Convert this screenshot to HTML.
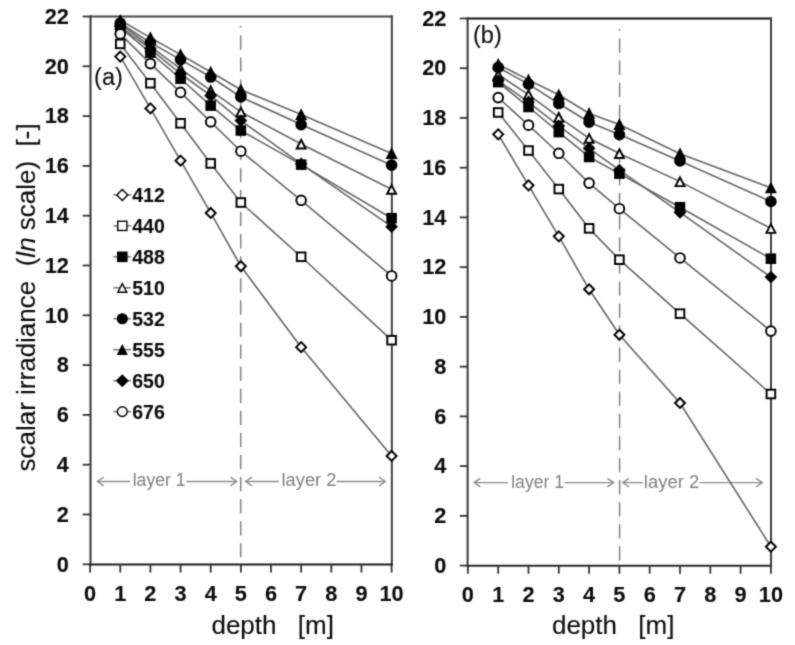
<!DOCTYPE html>
<html><head><meta charset="utf-8"><style>
html,body{margin:0;padding:0;background:#fff;}
svg{display:block;font-family:"Liberation Sans",sans-serif;}
.w{will-change:transform;}
</style></head><body>
<div class="w"><svg width="795" height="645" viewBox="0 0 795 645">
<defs><filter id="bl" color-interpolation-filters="sRGB" x="0" y="0" width="100%" height="100%" filterUnits="userSpaceOnUse"><feConvolveMatrix order="3" kernelMatrix="1 4 1 4 16 4 1 4 1" divisor="36" edgeMode="duplicate"/></filter></defs>
<g filter="url(#bl)">
<rect width="795" height="645" fill="#fff"/>
<line x1="240.70" y1="26.00" x2="240.70" y2="564.50" stroke="#808080" stroke-width="1.5" stroke-dasharray="14.3 7.78" stroke-dashoffset="-9.40"/>
<line x1="97.50" y1="481.5" x2="130.00" y2="481.5" stroke="#8c8c8c" stroke-width="1.4"/>
<line x1="186.40" y1="481.5" x2="236.50" y2="481.5" stroke="#8c8c8c" stroke-width="1.4"/>
<line x1="245.80" y1="481.5" x2="279.00" y2="481.5" stroke="#8c8c8c" stroke-width="1.4"/>
<line x1="336.60" y1="481.5" x2="385.00" y2="481.5" stroke="#8c8c8c" stroke-width="1.4"/>
<path d="M103.70 477.20L97.40 481.5L103.70 485.80" fill="none" stroke="#8c8c8c" stroke-width="1.4"/>
<path d="M230.40 477.20L236.70 481.5L230.40 485.80" fill="none" stroke="#8c8c8c" stroke-width="1.4"/>
<path d="M252.00 477.20L245.70 481.5L252.00 485.80" fill="none" stroke="#8c8c8c" stroke-width="1.4"/>
<path d="M379.00 477.20L385.30 481.5L379.00 485.80" fill="none" stroke="#8c8c8c" stroke-width="1.4"/>
<text x="132.69" y="486.20" font-size="17.5" fill="#808080" textLength="53.01" lengthAdjust="spacingAndGlyphs">layer 1</text>
<text x="281.55" y="486.20" font-size="17.5" fill="#808080" textLength="54.87" lengthAdjust="spacingAndGlyphs">layer 2</text>
<polyline points="120.25,56.59 150.40,108.38 180.55,160.67 210.70,212.96 240.85,266.25 301.15,347.17 391.60,455.98" fill="none" stroke="#666" stroke-width="1.6"/>
<polyline points="120.25,43.89 150.40,83.23 180.55,123.32 210.70,163.41 240.85,202.50 301.15,256.78 391.60,340.20" fill="none" stroke="#666" stroke-width="1.6"/>
<polyline points="120.25,27.70 150.40,52.60 180.55,78.75 210.70,105.64 240.85,130.54 301.15,164.65 391.60,218.19" fill="none" stroke="#666" stroke-width="1.6"/>
<polyline points="120.25,23.97 150.40,46.38 180.55,68.79 210.70,90.70 240.85,111.87 301.15,143.99 391.60,189.31" fill="none" stroke="#666" stroke-width="1.6"/>
<polyline points="120.25,23.22 150.40,42.64 180.55,59.58 210.70,77.01 240.85,96.93 301.15,124.57 391.60,165.15" fill="none" stroke="#666" stroke-width="1.6"/>
<polyline points="120.25,20.23 150.40,37.66 180.55,54.60 210.70,72.03 240.85,89.71 301.15,114.61 391.60,153.45" fill="none" stroke="#666" stroke-width="1.6"/>
<polyline points="120.25,26.46 150.40,48.87 180.55,73.77 210.70,95.68 240.85,120.58 301.15,163.91 391.60,226.66" fill="none" stroke="#666" stroke-width="1.6"/>
<polyline points="120.25,33.93 150.40,63.56 180.55,92.44 210.70,121.83 240.85,151.21 301.15,200.26 391.60,275.96" fill="none" stroke="#666" stroke-width="1.6"/>
<line x1="89.50" y1="16.50" x2="392.85" y2="16.50" stroke="#454545" stroke-width="2"/>
<line x1="90.50" y1="15.50" x2="90.50" y2="565.50" stroke="#333" stroke-width="2"/>
<line x1="391.85" y1="15.50" x2="391.85" y2="565.50" stroke="#414141" stroke-width="2"/>
<line x1="89.50" y1="564.50" x2="392.85" y2="564.50" stroke="#1c1c1c" stroke-width="2"/>
<line x1="82.70" y1="564.30" x2="90.50" y2="564.30" stroke="#333" stroke-width="1.8"/>
<text x="68.90" y="571.50" font-size="22" font-weight="bold" text-anchor="end" fill="#0d0d0d" stroke="#0d0d0d" stroke-width="0.12" textLength="12.10" lengthAdjust="spacingAndGlyphs">0</text>
<line x1="82.70" y1="514.50" x2="90.50" y2="514.50" stroke="#333" stroke-width="1.8"/>
<text x="68.90" y="521.70" font-size="22" font-weight="bold" text-anchor="end" fill="#0d0d0d" stroke="#0d0d0d" stroke-width="0.12" textLength="12.10" lengthAdjust="spacingAndGlyphs">2</text>
<line x1="82.70" y1="464.70" x2="90.50" y2="464.70" stroke="#333" stroke-width="1.8"/>
<text x="68.90" y="471.90" font-size="22" font-weight="bold" text-anchor="end" fill="#0d0d0d" stroke="#0d0d0d" stroke-width="0.12" textLength="12.10" lengthAdjust="spacingAndGlyphs">4</text>
<line x1="82.70" y1="414.90" x2="90.50" y2="414.90" stroke="#333" stroke-width="1.8"/>
<text x="68.90" y="422.10" font-size="22" font-weight="bold" text-anchor="end" fill="#0d0d0d" stroke="#0d0d0d" stroke-width="0.12" textLength="12.10" lengthAdjust="spacingAndGlyphs">6</text>
<line x1="82.70" y1="365.10" x2="90.50" y2="365.10" stroke="#333" stroke-width="1.8"/>
<text x="68.90" y="372.30" font-size="22" font-weight="bold" text-anchor="end" fill="#0d0d0d" stroke="#0d0d0d" stroke-width="0.12" textLength="12.10" lengthAdjust="spacingAndGlyphs">8</text>
<line x1="82.70" y1="315.30" x2="90.50" y2="315.30" stroke="#333" stroke-width="1.8"/>
<text x="68.90" y="322.50" font-size="22" font-weight="bold" text-anchor="end" fill="#0d0d0d" stroke="#0d0d0d" stroke-width="0.12" textLength="24.20" lengthAdjust="spacingAndGlyphs">10</text>
<line x1="82.70" y1="265.50" x2="90.50" y2="265.50" stroke="#333" stroke-width="1.8"/>
<text x="68.90" y="272.70" font-size="22" font-weight="bold" text-anchor="end" fill="#0d0d0d" stroke="#0d0d0d" stroke-width="0.12" textLength="24.20" lengthAdjust="spacingAndGlyphs">12</text>
<line x1="82.70" y1="215.70" x2="90.50" y2="215.70" stroke="#333" stroke-width="1.8"/>
<text x="68.90" y="222.90" font-size="22" font-weight="bold" text-anchor="end" fill="#0d0d0d" stroke="#0d0d0d" stroke-width="0.12" textLength="24.20" lengthAdjust="spacingAndGlyphs">14</text>
<line x1="82.70" y1="165.90" x2="90.50" y2="165.90" stroke="#333" stroke-width="1.8"/>
<text x="68.90" y="173.10" font-size="22" font-weight="bold" text-anchor="end" fill="#0d0d0d" stroke="#0d0d0d" stroke-width="0.12" textLength="24.20" lengthAdjust="spacingAndGlyphs">16</text>
<line x1="82.70" y1="116.10" x2="90.50" y2="116.10" stroke="#333" stroke-width="1.8"/>
<text x="68.90" y="123.30" font-size="22" font-weight="bold" text-anchor="end" fill="#0d0d0d" stroke="#0d0d0d" stroke-width="0.12" textLength="24.20" lengthAdjust="spacingAndGlyphs">18</text>
<line x1="82.70" y1="66.30" x2="90.50" y2="66.30" stroke="#333" stroke-width="1.8"/>
<text x="68.90" y="73.50" font-size="22" font-weight="bold" text-anchor="end" fill="#0d0d0d" stroke="#0d0d0d" stroke-width="0.12" textLength="24.20" lengthAdjust="spacingAndGlyphs">20</text>
<line x1="82.70" y1="16.50" x2="90.50" y2="16.50" stroke="#333" stroke-width="1.8"/>
<text x="68.90" y="23.70" font-size="22" font-weight="bold" text-anchor="end" fill="#0d0d0d" stroke="#0d0d0d" stroke-width="0.12" textLength="24.20" lengthAdjust="spacingAndGlyphs">22</text>
<line x1="90.10" y1="564.50" x2="90.10" y2="572.50" stroke="#333" stroke-width="1.8"/>
<text x="90.10" y="600.90" font-size="22" font-weight="bold" text-anchor="middle" fill="#0d0d0d" stroke="#0d0d0d" stroke-width="0.12" textLength="12.10" lengthAdjust="spacingAndGlyphs">0</text>
<line x1="120.25" y1="564.50" x2="120.25" y2="572.50" stroke="#333" stroke-width="1.8"/>
<text x="120.25" y="600.90" font-size="22" font-weight="bold" text-anchor="middle" fill="#0d0d0d" stroke="#0d0d0d" stroke-width="0.12" textLength="12.10" lengthAdjust="spacingAndGlyphs">1</text>
<line x1="150.40" y1="564.50" x2="150.40" y2="572.50" stroke="#333" stroke-width="1.8"/>
<text x="150.40" y="600.90" font-size="22" font-weight="bold" text-anchor="middle" fill="#0d0d0d" stroke="#0d0d0d" stroke-width="0.12" textLength="12.10" lengthAdjust="spacingAndGlyphs">2</text>
<line x1="180.55" y1="564.50" x2="180.55" y2="572.50" stroke="#333" stroke-width="1.8"/>
<text x="180.55" y="600.90" font-size="22" font-weight="bold" text-anchor="middle" fill="#0d0d0d" stroke="#0d0d0d" stroke-width="0.12" textLength="12.10" lengthAdjust="spacingAndGlyphs">3</text>
<line x1="210.70" y1="564.50" x2="210.70" y2="572.50" stroke="#333" stroke-width="1.8"/>
<text x="210.70" y="600.90" font-size="22" font-weight="bold" text-anchor="middle" fill="#0d0d0d" stroke="#0d0d0d" stroke-width="0.12" textLength="12.10" lengthAdjust="spacingAndGlyphs">4</text>
<line x1="240.85" y1="564.50" x2="240.85" y2="572.50" stroke="#333" stroke-width="1.8"/>
<text x="240.85" y="600.90" font-size="22" font-weight="bold" text-anchor="middle" fill="#0d0d0d" stroke="#0d0d0d" stroke-width="0.12" textLength="12.10" lengthAdjust="spacingAndGlyphs">5</text>
<line x1="271.00" y1="564.50" x2="271.00" y2="572.50" stroke="#333" stroke-width="1.8"/>
<text x="271.00" y="600.90" font-size="22" font-weight="bold" text-anchor="middle" fill="#0d0d0d" stroke="#0d0d0d" stroke-width="0.12" textLength="12.10" lengthAdjust="spacingAndGlyphs">6</text>
<line x1="301.15" y1="564.50" x2="301.15" y2="572.50" stroke="#333" stroke-width="1.8"/>
<text x="301.15" y="600.90" font-size="22" font-weight="bold" text-anchor="middle" fill="#0d0d0d" stroke="#0d0d0d" stroke-width="0.12" textLength="12.10" lengthAdjust="spacingAndGlyphs">7</text>
<line x1="331.30" y1="564.50" x2="331.30" y2="572.50" stroke="#333" stroke-width="1.8"/>
<text x="331.30" y="600.90" font-size="22" font-weight="bold" text-anchor="middle" fill="#0d0d0d" stroke="#0d0d0d" stroke-width="0.12" textLength="12.10" lengthAdjust="spacingAndGlyphs">8</text>
<line x1="361.45" y1="564.50" x2="361.45" y2="572.50" stroke="#333" stroke-width="1.8"/>
<text x="361.45" y="600.90" font-size="22" font-weight="bold" text-anchor="middle" fill="#0d0d0d" stroke="#0d0d0d" stroke-width="0.12" textLength="12.10" lengthAdjust="spacingAndGlyphs">9</text>
<line x1="391.60" y1="564.50" x2="391.60" y2="572.50" stroke="#333" stroke-width="1.8"/>
<text x="391.60" y="600.90" font-size="22" font-weight="bold" text-anchor="middle" fill="#0d0d0d" stroke="#0d0d0d" stroke-width="0.12" textLength="24.20" lengthAdjust="spacingAndGlyphs">10</text>
<path d="M120.25 51.59L125.25 56.59L120.25 61.59L115.25 56.59Z" fill="white" stroke="#000" stroke-width="1.95" stroke-linejoin="miter"/>
<path d="M150.40 103.38L155.40 108.38L150.40 113.38L145.40 108.38Z" fill="white" stroke="#000" stroke-width="1.95" stroke-linejoin="miter"/>
<path d="M180.55 155.67L185.55 160.67L180.55 165.67L175.55 160.67Z" fill="white" stroke="#000" stroke-width="1.95" stroke-linejoin="miter"/>
<path d="M210.70 207.96L215.70 212.96L210.70 217.96L205.70 212.96Z" fill="white" stroke="#000" stroke-width="1.95" stroke-linejoin="miter"/>
<path d="M240.85 261.25L245.85 266.25L240.85 271.25L235.85 266.25Z" fill="white" stroke="#000" stroke-width="1.95" stroke-linejoin="miter"/>
<path d="M301.15 342.17L306.15 347.17L301.15 352.17L296.15 347.17Z" fill="white" stroke="#000" stroke-width="1.95" stroke-linejoin="miter"/>
<path d="M391.60 450.98L396.60 455.98L391.60 460.98L386.60 455.98Z" fill="white" stroke="#000" stroke-width="1.95" stroke-linejoin="miter"/>
<rect x="115.95" y="39.59" width="8.60" height="8.60" fill="white" stroke="#000" stroke-width="1.95"/>
<rect x="146.10" y="78.93" width="8.60" height="8.60" fill="white" stroke="#000" stroke-width="1.95"/>
<rect x="176.25" y="119.02" width="8.60" height="8.60" fill="white" stroke="#000" stroke-width="1.95"/>
<rect x="206.40" y="159.11" width="8.60" height="8.60" fill="white" stroke="#000" stroke-width="1.95"/>
<rect x="236.55" y="198.20" width="8.60" height="8.60" fill="white" stroke="#000" stroke-width="1.95"/>
<rect x="296.85" y="252.48" width="8.60" height="8.60" fill="white" stroke="#000" stroke-width="1.95"/>
<rect x="387.30" y="335.90" width="8.60" height="8.60" fill="white" stroke="#000" stroke-width="1.95"/>
<rect x="115.95" y="23.40" width="8.60" height="8.60" fill="#000" stroke="#000" stroke-width="1.95"/>
<rect x="146.10" y="48.30" width="8.60" height="8.60" fill="#000" stroke="#000" stroke-width="1.95"/>
<rect x="176.25" y="74.45" width="8.60" height="8.60" fill="#000" stroke="#000" stroke-width="1.95"/>
<rect x="206.40" y="101.34" width="8.60" height="8.60" fill="#000" stroke="#000" stroke-width="1.95"/>
<rect x="236.55" y="126.24" width="8.60" height="8.60" fill="#000" stroke="#000" stroke-width="1.95"/>
<rect x="296.85" y="160.35" width="8.60" height="8.60" fill="#000" stroke="#000" stroke-width="1.95"/>
<rect x="387.30" y="213.89" width="8.60" height="8.60" fill="#000" stroke="#000" stroke-width="1.95"/>
<path d="M120.25 19.77L124.70 28.47L115.80 28.47Z" fill="white" stroke="#000" stroke-width="1.95" stroke-linejoin="miter"/>
<path d="M150.40 42.18L154.85 50.88L145.95 50.88Z" fill="white" stroke="#000" stroke-width="1.95" stroke-linejoin="miter"/>
<path d="M180.55 64.59L185.00 73.29L176.10 73.29Z" fill="white" stroke="#000" stroke-width="1.95" stroke-linejoin="miter"/>
<path d="M210.70 86.50L215.15 95.20L206.25 95.20Z" fill="white" stroke="#000" stroke-width="1.95" stroke-linejoin="miter"/>
<path d="M240.85 107.67L245.30 116.37L236.40 116.37Z" fill="white" stroke="#000" stroke-width="1.95" stroke-linejoin="miter"/>
<path d="M301.15 139.79L305.60 148.49L296.70 148.49Z" fill="white" stroke="#000" stroke-width="1.95" stroke-linejoin="miter"/>
<path d="M391.60 185.11L396.05 193.81L387.15 193.81Z" fill="white" stroke="#000" stroke-width="1.95" stroke-linejoin="miter"/>
<circle cx="120.25" cy="23.22" r="4.85" fill="#000" stroke="#000" stroke-width="1.95"/>
<circle cx="150.40" cy="42.64" r="4.85" fill="#000" stroke="#000" stroke-width="1.95"/>
<circle cx="180.55" cy="59.58" r="4.85" fill="#000" stroke="#000" stroke-width="1.95"/>
<circle cx="210.70" cy="77.01" r="4.85" fill="#000" stroke="#000" stroke-width="1.95"/>
<circle cx="240.85" cy="96.93" r="4.85" fill="#000" stroke="#000" stroke-width="1.95"/>
<circle cx="301.15" cy="124.57" r="4.85" fill="#000" stroke="#000" stroke-width="1.95"/>
<circle cx="391.60" cy="165.15" r="4.85" fill="#000" stroke="#000" stroke-width="1.95"/>
<path d="M120.25 16.03L124.70 24.73L115.80 24.73Z" fill="#000" stroke="#000" stroke-width="1.95" stroke-linejoin="miter"/>
<path d="M150.40 33.46L154.85 42.16L145.95 42.16Z" fill="#000" stroke="#000" stroke-width="1.95" stroke-linejoin="miter"/>
<path d="M180.55 50.40L185.00 59.10L176.10 59.10Z" fill="#000" stroke="#000" stroke-width="1.95" stroke-linejoin="miter"/>
<path d="M210.70 67.83L215.15 76.53L206.25 76.53Z" fill="#000" stroke="#000" stroke-width="1.95" stroke-linejoin="miter"/>
<path d="M240.85 85.51L245.30 94.21L236.40 94.21Z" fill="#000" stroke="#000" stroke-width="1.95" stroke-linejoin="miter"/>
<path d="M301.15 110.41L305.60 119.11L296.70 119.11Z" fill="#000" stroke="#000" stroke-width="1.95" stroke-linejoin="miter"/>
<path d="M391.60 149.25L396.05 157.95L387.15 157.95Z" fill="#000" stroke="#000" stroke-width="1.95" stroke-linejoin="miter"/>
<path d="M120.25 21.46L125.25 26.46L120.25 31.46L115.25 26.46Z" fill="#000" stroke="#000" stroke-width="1.95" stroke-linejoin="miter"/>
<path d="M150.40 43.87L155.40 48.87L150.40 53.87L145.40 48.87Z" fill="#000" stroke="#000" stroke-width="1.95" stroke-linejoin="miter"/>
<path d="M180.55 68.77L185.55 73.77L180.55 78.77L175.55 73.77Z" fill="#000" stroke="#000" stroke-width="1.95" stroke-linejoin="miter"/>
<path d="M210.70 90.68L215.70 95.68L210.70 100.68L205.70 95.68Z" fill="#000" stroke="#000" stroke-width="1.95" stroke-linejoin="miter"/>
<path d="M240.85 115.58L245.85 120.58L240.85 125.58L235.85 120.58Z" fill="#000" stroke="#000" stroke-width="1.95" stroke-linejoin="miter"/>
<path d="M301.15 158.91L306.15 163.91L301.15 168.91L296.15 163.91Z" fill="#000" stroke="#000" stroke-width="1.95" stroke-linejoin="miter"/>
<path d="M391.60 221.66L396.60 226.66L391.60 231.66L386.60 226.66Z" fill="#000" stroke="#000" stroke-width="1.95" stroke-linejoin="miter"/>
<circle cx="120.25" cy="33.93" r="4.85" fill="white" stroke="#000" stroke-width="1.95"/>
<circle cx="150.40" cy="63.56" r="4.85" fill="white" stroke="#000" stroke-width="1.95"/>
<circle cx="180.55" cy="92.44" r="4.85" fill="white" stroke="#000" stroke-width="1.95"/>
<circle cx="210.70" cy="121.83" r="4.85" fill="white" stroke="#000" stroke-width="1.95"/>
<circle cx="240.85" cy="151.21" r="4.85" fill="white" stroke="#000" stroke-width="1.95"/>
<circle cx="301.15" cy="200.26" r="4.85" fill="white" stroke="#000" stroke-width="1.95"/>
<circle cx="391.60" cy="275.96" r="4.85" fill="white" stroke="#000" stroke-width="1.95"/>
<text x="94.1" y="84.9" font-size="23.5" fill="#0d0d0d" stroke="#0d0d0d" stroke-width="0.12">(a)</text>
<line x1="619.60" y1="29.00" x2="619.60" y2="565.70" stroke="#808080" stroke-width="1.5" stroke-dasharray="14.3 7.78" stroke-dashoffset="-9.50"/>
<line x1="474.50" y1="482.6" x2="508.10" y2="482.6" stroke="#8c8c8c" stroke-width="1.4"/>
<line x1="564.80" y1="482.6" x2="613.50" y2="482.6" stroke="#8c8c8c" stroke-width="1.4"/>
<line x1="623.40" y1="482.6" x2="642.80" y2="482.6" stroke="#8c8c8c" stroke-width="1.4"/>
<line x1="699.40" y1="482.6" x2="762.00" y2="482.6" stroke="#8c8c8c" stroke-width="1.4"/>
<path d="M480.40 478.30L474.10 482.6L480.40 486.90" fill="none" stroke="#8c8c8c" stroke-width="1.4"/>
<path d="M607.40 478.30L613.70 482.6L607.40 486.90" fill="none" stroke="#8c8c8c" stroke-width="1.4"/>
<path d="M629.00 478.30L622.70 482.6L629.00 486.90" fill="none" stroke="#8c8c8c" stroke-width="1.4"/>
<path d="M756.00 478.30L762.30 482.6L756.00 486.90" fill="none" stroke="#8c8c8c" stroke-width="1.4"/>
<text x="511.19" y="487.60" font-size="17.5" fill="#808080" textLength="52.81" lengthAdjust="spacingAndGlyphs">layer 1</text>
<text x="643.85" y="487.60" font-size="17.5" fill="#808080" textLength="55.28" lengthAdjust="spacingAndGlyphs">layer 2</text>
<polyline points="498.20,134.35 528.50,185.34 558.80,236.32 589.10,289.29 619.40,334.81 680.00,402.95 770.90,546.70" fill="none" stroke="#666" stroke-width="1.6"/>
<polyline points="498.20,112.47 528.50,150.52 558.80,189.07 589.10,228.36 619.40,259.70 680.00,313.67 770.90,394.00" fill="none" stroke="#666" stroke-width="1.6"/>
<polyline points="498.20,82.13 528.50,107.00 558.80,132.12 589.10,156.99 619.40,173.65 680.00,207.22 770.90,258.70" fill="none" stroke="#666" stroke-width="1.6"/>
<polyline points="498.20,74.67 528.50,94.56 558.80,117.19 589.10,138.33 619.40,153.50 680.00,181.61 770.90,228.36" fill="none" stroke="#666" stroke-width="1.6"/>
<polyline points="498.20,67.45 528.50,84.12 558.80,103.52 589.10,122.17 619.40,134.60 680.00,160.97 770.90,201.50" fill="none" stroke="#666" stroke-width="1.6"/>
<polyline points="498.20,64.22 528.50,79.89 558.80,94.81 589.10,113.46 619.40,124.41 680.00,153.75 770.90,187.82" fill="none" stroke="#666" stroke-width="1.6"/>
<polyline points="498.20,80.63 528.50,102.02 558.80,125.90 589.10,148.28 619.40,170.17 680.00,212.45 770.90,277.11" fill="none" stroke="#666" stroke-width="1.6"/>
<polyline points="498.20,97.55 528.50,125.15 558.80,153.26 589.10,183.10 619.40,208.72 680.00,257.96 770.90,331.08" fill="none" stroke="#666" stroke-width="1.6"/>
<line x1="466.60" y1="18.50" x2="772.00" y2="18.50" stroke="#151515" stroke-width="2"/>
<line x1="467.60" y1="17.50" x2="467.60" y2="566.70" stroke="#373737" stroke-width="2"/>
<line x1="771.00" y1="17.50" x2="771.00" y2="566.70" stroke="#3f3f3f" stroke-width="2"/>
<line x1="466.60" y1="565.70" x2="772.00" y2="565.70" stroke="#282828" stroke-width="2"/>
<line x1="459.80" y1="565.60" x2="467.60" y2="565.60" stroke="#333" stroke-width="1.8"/>
<text x="446.40" y="572.80" font-size="22" font-weight="bold" text-anchor="end" fill="#0d0d0d" stroke="#0d0d0d" stroke-width="0.12" textLength="12.10" lengthAdjust="spacingAndGlyphs">0</text>
<line x1="459.80" y1="515.86" x2="467.60" y2="515.86" stroke="#333" stroke-width="1.8"/>
<text x="446.40" y="523.06" font-size="22" font-weight="bold" text-anchor="end" fill="#0d0d0d" stroke="#0d0d0d" stroke-width="0.12" textLength="12.10" lengthAdjust="spacingAndGlyphs">2</text>
<line x1="459.80" y1="466.12" x2="467.60" y2="466.12" stroke="#333" stroke-width="1.8"/>
<text x="446.40" y="473.32" font-size="22" font-weight="bold" text-anchor="end" fill="#0d0d0d" stroke="#0d0d0d" stroke-width="0.12" textLength="12.10" lengthAdjust="spacingAndGlyphs">4</text>
<line x1="459.80" y1="416.38" x2="467.60" y2="416.38" stroke="#333" stroke-width="1.8"/>
<text x="446.40" y="423.58" font-size="22" font-weight="bold" text-anchor="end" fill="#0d0d0d" stroke="#0d0d0d" stroke-width="0.12" textLength="12.10" lengthAdjust="spacingAndGlyphs">6</text>
<line x1="459.80" y1="366.64" x2="467.60" y2="366.64" stroke="#333" stroke-width="1.8"/>
<text x="446.40" y="373.84" font-size="22" font-weight="bold" text-anchor="end" fill="#0d0d0d" stroke="#0d0d0d" stroke-width="0.12" textLength="12.10" lengthAdjust="spacingAndGlyphs">8</text>
<line x1="459.80" y1="316.90" x2="467.60" y2="316.90" stroke="#333" stroke-width="1.8"/>
<text x="446.40" y="324.10" font-size="22" font-weight="bold" text-anchor="end" fill="#0d0d0d" stroke="#0d0d0d" stroke-width="0.12" textLength="24.20" lengthAdjust="spacingAndGlyphs">10</text>
<line x1="459.80" y1="267.16" x2="467.60" y2="267.16" stroke="#333" stroke-width="1.8"/>
<text x="446.40" y="274.36" font-size="22" font-weight="bold" text-anchor="end" fill="#0d0d0d" stroke="#0d0d0d" stroke-width="0.12" textLength="24.20" lengthAdjust="spacingAndGlyphs">12</text>
<line x1="459.80" y1="217.42" x2="467.60" y2="217.42" stroke="#333" stroke-width="1.8"/>
<text x="446.40" y="224.62" font-size="22" font-weight="bold" text-anchor="end" fill="#0d0d0d" stroke="#0d0d0d" stroke-width="0.12" textLength="24.20" lengthAdjust="spacingAndGlyphs">14</text>
<line x1="459.80" y1="167.68" x2="467.60" y2="167.68" stroke="#333" stroke-width="1.8"/>
<text x="446.40" y="174.88" font-size="22" font-weight="bold" text-anchor="end" fill="#0d0d0d" stroke="#0d0d0d" stroke-width="0.12" textLength="24.20" lengthAdjust="spacingAndGlyphs">16</text>
<line x1="459.80" y1="117.94" x2="467.60" y2="117.94" stroke="#333" stroke-width="1.8"/>
<text x="446.40" y="125.14" font-size="22" font-weight="bold" text-anchor="end" fill="#0d0d0d" stroke="#0d0d0d" stroke-width="0.12" textLength="24.20" lengthAdjust="spacingAndGlyphs">18</text>
<line x1="459.80" y1="68.20" x2="467.60" y2="68.20" stroke="#333" stroke-width="1.8"/>
<text x="446.40" y="75.40" font-size="22" font-weight="bold" text-anchor="end" fill="#0d0d0d" stroke="#0d0d0d" stroke-width="0.12" textLength="24.20" lengthAdjust="spacingAndGlyphs">20</text>
<line x1="459.80" y1="18.46" x2="467.60" y2="18.46" stroke="#333" stroke-width="1.8"/>
<text x="446.40" y="25.66" font-size="22" font-weight="bold" text-anchor="end" fill="#0d0d0d" stroke="#0d0d0d" stroke-width="0.12" textLength="24.20" lengthAdjust="spacingAndGlyphs">22</text>
<line x1="467.90" y1="565.70" x2="467.90" y2="573.70" stroke="#333" stroke-width="1.8"/>
<text x="467.90" y="602.10" font-size="22" font-weight="bold" text-anchor="middle" fill="#0d0d0d" stroke="#0d0d0d" stroke-width="0.12" textLength="12.10" lengthAdjust="spacingAndGlyphs">0</text>
<line x1="498.20" y1="565.70" x2="498.20" y2="573.70" stroke="#333" stroke-width="1.8"/>
<text x="498.20" y="602.10" font-size="22" font-weight="bold" text-anchor="middle" fill="#0d0d0d" stroke="#0d0d0d" stroke-width="0.12" textLength="12.10" lengthAdjust="spacingAndGlyphs">1</text>
<line x1="528.50" y1="565.70" x2="528.50" y2="573.70" stroke="#333" stroke-width="1.8"/>
<text x="528.50" y="602.10" font-size="22" font-weight="bold" text-anchor="middle" fill="#0d0d0d" stroke="#0d0d0d" stroke-width="0.12" textLength="12.10" lengthAdjust="spacingAndGlyphs">2</text>
<line x1="558.80" y1="565.70" x2="558.80" y2="573.70" stroke="#333" stroke-width="1.8"/>
<text x="558.80" y="602.10" font-size="22" font-weight="bold" text-anchor="middle" fill="#0d0d0d" stroke="#0d0d0d" stroke-width="0.12" textLength="12.10" lengthAdjust="spacingAndGlyphs">3</text>
<line x1="589.10" y1="565.70" x2="589.10" y2="573.70" stroke="#333" stroke-width="1.8"/>
<text x="589.10" y="602.10" font-size="22" font-weight="bold" text-anchor="middle" fill="#0d0d0d" stroke="#0d0d0d" stroke-width="0.12" textLength="12.10" lengthAdjust="spacingAndGlyphs">4</text>
<line x1="619.40" y1="565.70" x2="619.40" y2="573.70" stroke="#333" stroke-width="1.8"/>
<text x="619.40" y="602.10" font-size="22" font-weight="bold" text-anchor="middle" fill="#0d0d0d" stroke="#0d0d0d" stroke-width="0.12" textLength="12.10" lengthAdjust="spacingAndGlyphs">5</text>
<line x1="649.70" y1="565.70" x2="649.70" y2="573.70" stroke="#333" stroke-width="1.8"/>
<text x="649.70" y="602.10" font-size="22" font-weight="bold" text-anchor="middle" fill="#0d0d0d" stroke="#0d0d0d" stroke-width="0.12" textLength="12.10" lengthAdjust="spacingAndGlyphs">6</text>
<line x1="680.00" y1="565.70" x2="680.00" y2="573.70" stroke="#333" stroke-width="1.8"/>
<text x="680.00" y="602.10" font-size="22" font-weight="bold" text-anchor="middle" fill="#0d0d0d" stroke="#0d0d0d" stroke-width="0.12" textLength="12.10" lengthAdjust="spacingAndGlyphs">7</text>
<line x1="710.30" y1="565.70" x2="710.30" y2="573.70" stroke="#333" stroke-width="1.8"/>
<text x="710.30" y="602.10" font-size="22" font-weight="bold" text-anchor="middle" fill="#0d0d0d" stroke="#0d0d0d" stroke-width="0.12" textLength="12.10" lengthAdjust="spacingAndGlyphs">8</text>
<line x1="740.60" y1="565.70" x2="740.60" y2="573.70" stroke="#333" stroke-width="1.8"/>
<text x="740.60" y="602.10" font-size="22" font-weight="bold" text-anchor="middle" fill="#0d0d0d" stroke="#0d0d0d" stroke-width="0.12" textLength="12.10" lengthAdjust="spacingAndGlyphs">9</text>
<line x1="770.90" y1="565.70" x2="770.90" y2="573.70" stroke="#333" stroke-width="1.8"/>
<text x="770.90" y="602.10" font-size="22" font-weight="bold" text-anchor="middle" fill="#0d0d0d" stroke="#0d0d0d" stroke-width="0.12" textLength="24.20" lengthAdjust="spacingAndGlyphs">10</text>
<path d="M498.20 129.35L503.20 134.35L498.20 139.35L493.20 134.35Z" fill="white" stroke="#000" stroke-width="1.95" stroke-linejoin="miter"/>
<path d="M528.50 180.34L533.50 185.34L528.50 190.34L523.50 185.34Z" fill="white" stroke="#000" stroke-width="1.95" stroke-linejoin="miter"/>
<path d="M558.80 231.32L563.80 236.32L558.80 241.32L553.80 236.32Z" fill="white" stroke="#000" stroke-width="1.95" stroke-linejoin="miter"/>
<path d="M589.10 284.29L594.10 289.29L589.10 294.29L584.10 289.29Z" fill="white" stroke="#000" stroke-width="1.95" stroke-linejoin="miter"/>
<path d="M619.40 329.81L624.40 334.81L619.40 339.81L614.40 334.81Z" fill="white" stroke="#000" stroke-width="1.95" stroke-linejoin="miter"/>
<path d="M680.00 397.95L685.00 402.95L680.00 407.95L675.00 402.95Z" fill="white" stroke="#000" stroke-width="1.95" stroke-linejoin="miter"/>
<path d="M770.90 541.70L775.90 546.70L770.90 551.70L765.90 546.70Z" fill="white" stroke="#000" stroke-width="1.95" stroke-linejoin="miter"/>
<rect x="493.90" y="108.17" width="8.60" height="8.60" fill="white" stroke="#000" stroke-width="1.95"/>
<rect x="524.20" y="146.22" width="8.60" height="8.60" fill="white" stroke="#000" stroke-width="1.95"/>
<rect x="554.50" y="184.77" width="8.60" height="8.60" fill="white" stroke="#000" stroke-width="1.95"/>
<rect x="584.80" y="224.06" width="8.60" height="8.60" fill="white" stroke="#000" stroke-width="1.95"/>
<rect x="615.10" y="255.40" width="8.60" height="8.60" fill="white" stroke="#000" stroke-width="1.95"/>
<rect x="675.70" y="309.37" width="8.60" height="8.60" fill="white" stroke="#000" stroke-width="1.95"/>
<rect x="766.60" y="389.70" width="8.60" height="8.60" fill="white" stroke="#000" stroke-width="1.95"/>
<rect x="493.90" y="77.83" width="8.60" height="8.60" fill="#000" stroke="#000" stroke-width="1.95"/>
<rect x="524.20" y="102.70" width="8.60" height="8.60" fill="#000" stroke="#000" stroke-width="1.95"/>
<rect x="554.50" y="127.82" width="8.60" height="8.60" fill="#000" stroke="#000" stroke-width="1.95"/>
<rect x="584.80" y="152.69" width="8.60" height="8.60" fill="#000" stroke="#000" stroke-width="1.95"/>
<rect x="615.10" y="169.35" width="8.60" height="8.60" fill="#000" stroke="#000" stroke-width="1.95"/>
<rect x="675.70" y="202.92" width="8.60" height="8.60" fill="#000" stroke="#000" stroke-width="1.95"/>
<rect x="766.60" y="254.40" width="8.60" height="8.60" fill="#000" stroke="#000" stroke-width="1.95"/>
<path d="M498.20 70.47L502.65 79.17L493.75 79.17Z" fill="white" stroke="#000" stroke-width="1.95" stroke-linejoin="miter"/>
<path d="M528.50 90.36L532.95 99.06L524.05 99.06Z" fill="white" stroke="#000" stroke-width="1.95" stroke-linejoin="miter"/>
<path d="M558.80 112.99L563.25 121.69L554.35 121.69Z" fill="white" stroke="#000" stroke-width="1.95" stroke-linejoin="miter"/>
<path d="M589.10 134.13L593.55 142.83L584.65 142.83Z" fill="white" stroke="#000" stroke-width="1.95" stroke-linejoin="miter"/>
<path d="M619.40 149.30L623.85 158.00L614.95 158.00Z" fill="white" stroke="#000" stroke-width="1.95" stroke-linejoin="miter"/>
<path d="M680.00 177.41L684.45 186.11L675.55 186.11Z" fill="white" stroke="#000" stroke-width="1.95" stroke-linejoin="miter"/>
<path d="M770.90 224.16L775.35 232.86L766.45 232.86Z" fill="white" stroke="#000" stroke-width="1.95" stroke-linejoin="miter"/>
<circle cx="498.20" cy="67.45" r="4.85" fill="#000" stroke="#000" stroke-width="1.95"/>
<circle cx="528.50" cy="84.12" r="4.85" fill="#000" stroke="#000" stroke-width="1.95"/>
<circle cx="558.80" cy="103.52" r="4.85" fill="#000" stroke="#000" stroke-width="1.95"/>
<circle cx="589.10" cy="122.17" r="4.85" fill="#000" stroke="#000" stroke-width="1.95"/>
<circle cx="619.40" cy="134.60" r="4.85" fill="#000" stroke="#000" stroke-width="1.95"/>
<circle cx="680.00" cy="160.97" r="4.85" fill="#000" stroke="#000" stroke-width="1.95"/>
<circle cx="770.90" cy="201.50" r="4.85" fill="#000" stroke="#000" stroke-width="1.95"/>
<path d="M498.20 60.02L502.65 68.72L493.75 68.72Z" fill="#000" stroke="#000" stroke-width="1.95" stroke-linejoin="miter"/>
<path d="M528.50 75.69L532.95 84.39L524.05 84.39Z" fill="#000" stroke="#000" stroke-width="1.95" stroke-linejoin="miter"/>
<path d="M558.80 90.61L563.25 99.31L554.35 99.31Z" fill="#000" stroke="#000" stroke-width="1.95" stroke-linejoin="miter"/>
<path d="M589.10 109.26L593.55 117.96L584.65 117.96Z" fill="#000" stroke="#000" stroke-width="1.95" stroke-linejoin="miter"/>
<path d="M619.40 120.21L623.85 128.91L614.95 128.91Z" fill="#000" stroke="#000" stroke-width="1.95" stroke-linejoin="miter"/>
<path d="M680.00 149.55L684.45 158.25L675.55 158.25Z" fill="#000" stroke="#000" stroke-width="1.95" stroke-linejoin="miter"/>
<path d="M770.90 183.62L775.35 192.32L766.45 192.32Z" fill="#000" stroke="#000" stroke-width="1.95" stroke-linejoin="miter"/>
<path d="M498.20 75.63L503.20 80.63L498.20 85.63L493.20 80.63Z" fill="#000" stroke="#000" stroke-width="1.95" stroke-linejoin="miter"/>
<path d="M528.50 97.02L533.50 102.02L528.50 107.02L523.50 102.02Z" fill="#000" stroke="#000" stroke-width="1.95" stroke-linejoin="miter"/>
<path d="M558.80 120.90L563.80 125.90L558.80 130.90L553.80 125.90Z" fill="#000" stroke="#000" stroke-width="1.95" stroke-linejoin="miter"/>
<path d="M589.10 143.28L594.10 148.28L589.10 153.28L584.10 148.28Z" fill="#000" stroke="#000" stroke-width="1.95" stroke-linejoin="miter"/>
<path d="M619.40 165.17L624.40 170.17L619.40 175.17L614.40 170.17Z" fill="#000" stroke="#000" stroke-width="1.95" stroke-linejoin="miter"/>
<path d="M680.00 207.45L685.00 212.45L680.00 217.45L675.00 212.45Z" fill="#000" stroke="#000" stroke-width="1.95" stroke-linejoin="miter"/>
<path d="M770.90 272.11L775.90 277.11L770.90 282.11L765.90 277.11Z" fill="#000" stroke="#000" stroke-width="1.95" stroke-linejoin="miter"/>
<circle cx="498.20" cy="97.55" r="4.85" fill="white" stroke="#000" stroke-width="1.95"/>
<circle cx="528.50" cy="125.15" r="4.85" fill="white" stroke="#000" stroke-width="1.95"/>
<circle cx="558.80" cy="153.26" r="4.85" fill="white" stroke="#000" stroke-width="1.95"/>
<circle cx="589.10" cy="183.10" r="4.85" fill="white" stroke="#000" stroke-width="1.95"/>
<circle cx="619.40" cy="208.72" r="4.85" fill="white" stroke="#000" stroke-width="1.95"/>
<circle cx="680.00" cy="257.96" r="4.85" fill="white" stroke="#000" stroke-width="1.95"/>
<circle cx="770.90" cy="331.08" r="4.85" fill="white" stroke="#000" stroke-width="1.95"/>
<text x="473.0" y="42.8" font-size="23.5" fill="#0d0d0d" stroke="#0d0d0d" stroke-width="0.12">(b)</text>
<line x1="113.4" y1="194.90" x2="130.9" y2="194.90" stroke="#7a7a7a" stroke-width="1.6"/>
<path d="M122.30 189.40L127.80 194.90L122.30 200.40L116.80 194.90Z" fill="white" stroke="#000" stroke-width="1.4" stroke-linejoin="miter"/>
<text x="132.2" y="201.80" font-size="19.5" font-weight="bold" fill="#0d0d0d" stroke="#0d0d0d" stroke-width="0.12">412</text>
<line x1="113.4" y1="225.86" x2="130.9" y2="225.86" stroke="#7a7a7a" stroke-width="1.6"/>
<rect x="117.70" y="221.26" width="9.20" height="9.20" fill="white" stroke="#000" stroke-width="1.4"/>
<text x="132.2" y="232.76" font-size="19.5" font-weight="bold" fill="#0d0d0d" stroke="#0d0d0d" stroke-width="0.12">440</text>
<line x1="113.4" y1="256.82" x2="130.9" y2="256.82" stroke="#7a7a7a" stroke-width="1.6"/>
<rect x="117.70" y="252.22" width="9.20" height="9.20" fill="#000" stroke="#000" stroke-width="1.4"/>
<text x="132.2" y="263.72" font-size="19.5" font-weight="bold" fill="#0d0d0d" stroke="#0d0d0d" stroke-width="0.12">488</text>
<line x1="113.4" y1="287.78" x2="130.9" y2="287.78" stroke="#7a7a7a" stroke-width="1.6"/>
<path d="M122.30 283.58L126.75 292.28L117.85 292.28Z" fill="white" stroke="#000" stroke-width="1.4" stroke-linejoin="miter"/>
<text x="132.2" y="294.68" font-size="19.5" font-weight="bold" fill="#0d0d0d" stroke="#0d0d0d" stroke-width="0.12">510</text>
<line x1="113.4" y1="318.74" x2="130.9" y2="318.74" stroke="#7a7a7a" stroke-width="1.6"/>
<circle cx="122.30" cy="318.74" r="4.9" fill="#000" stroke="#000" stroke-width="1.4"/>
<text x="132.2" y="325.64" font-size="19.5" font-weight="bold" fill="#0d0d0d" stroke="#0d0d0d" stroke-width="0.12">532</text>
<line x1="113.4" y1="349.70" x2="130.9" y2="349.70" stroke="#7a7a7a" stroke-width="1.6"/>
<path d="M122.30 345.50L126.75 354.20L117.85 354.20Z" fill="#000" stroke="#000" stroke-width="1.4" stroke-linejoin="miter"/>
<text x="132.2" y="356.60" font-size="19.5" font-weight="bold" fill="#0d0d0d" stroke="#0d0d0d" stroke-width="0.12">555</text>
<line x1="113.4" y1="380.66" x2="130.9" y2="380.66" stroke="#7a7a7a" stroke-width="1.6"/>
<path d="M122.30 375.16L127.80 380.66L122.30 386.16L116.80 380.66Z" fill="#000" stroke="#000" stroke-width="1.4" stroke-linejoin="miter"/>
<text x="132.2" y="387.56" font-size="19.5" font-weight="bold" fill="#0d0d0d" stroke="#0d0d0d" stroke-width="0.12">650</text>
<line x1="113.4" y1="411.62" x2="130.9" y2="411.62" stroke="#7a7a7a" stroke-width="1.6"/>
<circle cx="122.30" cy="411.62" r="4.9" fill="white" stroke="#000" stroke-width="1.4"/>
<text x="132.2" y="418.52" font-size="19.5" font-weight="bold" fill="#0d0d0d" stroke="#0d0d0d" stroke-width="0.12">676</text>
<text x="211.45" y="633.5" font-size="26" fill="#0d0d0d" stroke="#0d0d0d" stroke-width="0.12">depth</text>
<text x="297.85" y="633.5" font-size="26" fill="#0d0d0d" stroke="#0d0d0d" stroke-width="0.12">[m]</text>
<text x="551.95" y="633.5" font-size="26" fill="#0d0d0d" stroke="#0d0d0d" stroke-width="0.12">depth</text>
<text x="638.35" y="633.5" font-size="26" fill="#0d0d0d" stroke="#0d0d0d" stroke-width="0.12">[m]</text>
<text transform="translate(35,471.5) rotate(-90)" font-size="26" fill="#0d0d0d" stroke="#0d0d0d" stroke-width="0.12" xml:space="preserve">scalar irradiance  (<tspan font-style="italic">ln</tspan> scale)  [-]</text>
</g>
</svg></div>
</body></html>
